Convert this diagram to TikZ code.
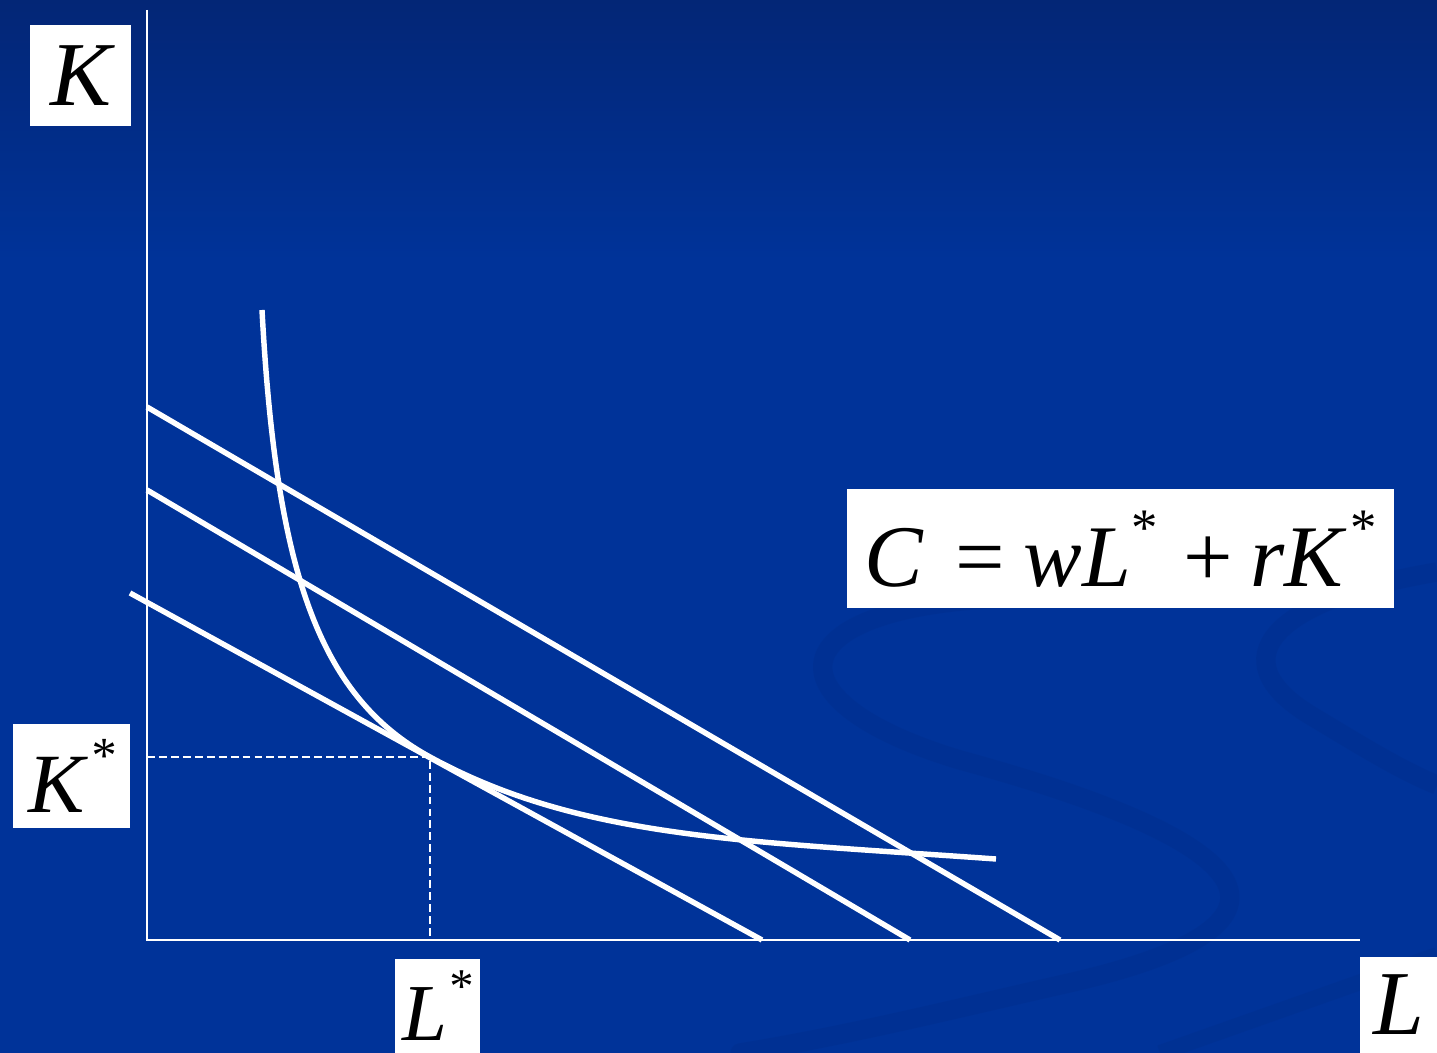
\documentclass[tikz,border=0pt]{standalone}
\usepackage{fontspec}
\setmainfont{Liberation Serif}
\definecolor{slidetop}{RGB}{3,38,118}
\definecolor{slideblue}{RGB}{0,51,153}
\definecolor{swirl}{RGB}{0,45,136}
\newcommand{\supstar}{\raisebox{0.47em}{\scalebox{0.6}{*}}}

\begin{document}
\begin{tikzpicture}[x=0.02cm, y=-0.02cm,
    budget/.style={white, line width=3.1pt},
    axis/.style={white, line width=1.3pt},
    guide/.style={white, line width=1.1pt, dash pattern=on 4.5pt off 2.3pt},
    lbl/.style={fill=white, inner sep=0pt, font=\itshape}]
    \useasboundingbox (0,0) rectangle (1437,1053);

    % Background
    \fill[slideblue] (0,0) rectangle (1437,1053);
    \shade[top color=slidetop, bottom color=slideblue] (0,0) rectangle (1437,260);
    \draw[swirl, line width=11pt, line cap=round, opacity=0.35] (1010,598) .. controls (780,605) and (760,700) .. (960,760) .. controls (1290,850) and (1310,930) .. (1060,985) .. controls (950,1010) and (850,1035) .. (740,1053);
    \draw[swirl, line width=11pt, opacity=0.35] (1437,572) .. controls (1270,600) and (1220,660) .. (1310,715) .. controls (1360,745) and (1400,770) .. (1437,785);
    \draw[swirl, line width=9pt, opacity=0.3] (1160,1053) -- (1437,955);

    % Draw axes
    \draw[axis] (147,10) -- (147,940) -- (1360,940);

    % Draw isocost lines
    \draw[budget] (147,407) -- (1060,940);
    \draw[budget] (147,490) -- (910,940);
    \draw[budget] (130,593) -- (762,940);

    % Draw isoquant tangent to the lowest isocost line at (430,757)
    \coordinate (E) at (430,757);
    \draw[budget] (262,310) .. controls (276,570) and (318,696) .. (E)
        .. controls (580,839) and (746,841) .. (996,859);

    % Markers
    \draw[guide] (147,757) -- (E) -- (430,940);

    % Labels
    \node[lbl, minimum width=2.02cm, minimum height=2.02cm, font=\fontsize{52}{60}\selectfont\itshape] (klab) at (80.5,75.5) {K};
    \node[lbl, minimum width=1.54cm, minimum height=1.92cm, font=\fontsize{52}{60}\selectfont\itshape] (llab) at (1398.5,1005) {L};
    \node[lbl, minimum width=2.34cm, minimum height=2.08cm, font=\fontsize{48}{56}\selectfont\itshape] (kstar) at (71.5,776) {K\kern0.06em\supstar};
    \node[lbl, minimum width=1.7cm, minimum height=1.88cm, font=\fontsize{46}{54}\selectfont\itshape] (lstar) at (437.5,1006) {L\supstar};
    \node[lbl, minimum width=10.94cm, text height=1.96cm, text depth=0.42cm, font=\fontsize{50}{58}\selectfont] (cost) at (1120.5,548.5)
        {\textit{C}\hspace{0.36em}=\hspace{0.21em}\textit{wL}\supstar\hspace{0.3em}+\hspace{0.19em}\textit{rK}\kern0.04em\supstar};
\end{tikzpicture}
\end{document}
